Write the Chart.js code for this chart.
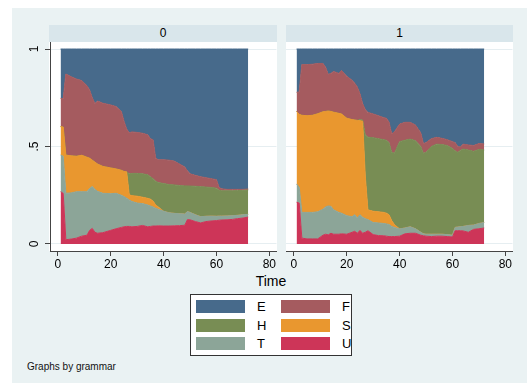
<!DOCTYPE html>
<html>
<head>
<meta charset="utf-8">
<script src="https://cdn.jsdelivr.net/npm/chart.js@4"></script>
<style>
  body { margin: 0; background: #fff; font-family: "Liberation Sans", Arial, sans-serif; }
  .abs { position: absolute; }
  .strip { position: absolute; top: 25px; height: 17px; background: #d9e6eb; font-size: 12px; line-height: 17px; text-align: center; color: #000; }
  .plotbg { position: absolute; top: 42px; height: 209px; background: #fff; }
  .sw { position: absolute; width: 49px; height: 13px; }
  .lab { position: absolute; font-size: 13px; line-height: 13px; color: #000; }
</style>
</head>
<body>
<div class="abs" style="left:12px;top:8px;width:515px;height:375px;background:#eaf2f3"></div>
<div class="strip" style="left:49px;width:228px">0</div>
<div class="strip" style="left:286px;width:227px">1</div>
<div class="plotbg" style="left:49px;width:228px"></div>
<div class="plotbg" style="left:286px;width:227px"></div>
<canvas id="panel0" class="abs" style="left:20px;top:42px" width="257" height="231"></canvas>
<canvas id="panel1" class="abs" style="left:286px;top:42px" width="227" height="231"></canvas>
<div class="abs" style="left:231px;top:273px;width:80px;text-align:center;font-size:14px">Time</div>
<div id="legend" class="abs" style="left:190px;top:294px;width:160px;height:60px;background:#fff;border:1px solid #333"></div>
<div class="abs" style="left:27px;top:361px;font-size:10px;color:#111">Graphs by grammar</div>

<script>
// Categories in legend order (top of stack first)
const categories = ['E', 'F', 'H', 'S', 'T', 'U'];
const colors = {
    E: '#476a8b', F: '#a55b5f', H: '#788d54',
    S: '#e9972f', T: '#8ca598', U: '#cd3558'
};

const xTicks = [0, 20, 40, 60, 80];
const yTicks = [0, 0.5, 1];
const yTickLabels = ['0', '.5', '1'];

// grammar = 0
const time0 = [1, 2, 3, 5, 7, 9, 11, 12, 13, 14, 15, 17, 20, 22, 24, 25, 26, 27, 28, 30, 32, 34, 35, 36, 37, 38, 40, 42, 44, 46, 48, 49, 50, 52, 54, 56, 58, 60, 61, 62, 64, 66, 68, 70, 72];
const U0 = [0.268, 0.26, 0.022, 0.025, 0.03, 0.04, 0.045, 0.07, 0.08, 0.06, 0.055, 0.058, 0.07, 0.078, 0.085, 0.088, 0.09, 0.09, 0.088, 0.09, 0.095, 0.088, 0.09, 0.092, 0.092, 0.093, 0.092, 0.092, 0.093, 0.094, 0.096, 0.125, 0.124, 0.115, 0.108, 0.115, 0.118, 0.12, 0.122, 0.123, 0.124, 0.126, 0.13, 0.133, 0.138];
const T0 = [0.188, 0.19, 0.238, 0.237, 0.238, 0.228, 0.223, 0.215, 0.215, 0.22, 0.215, 0.202, 0.188, 0.182, 0.165, 0.155, 0.145, 0.136, 0.13, 0.12, 0.112, 0.112, 0.105, 0.098, 0.091, 0.085, 0.076, 0.068, 0.064, 0.061, 0.058, 0.041, 0.038, 0.035, 0.032, 0.027, 0.025, 0.022, 0.021, 0.02, 0.02, 0.019, 0.017, 0.017, 0.014];
const S0 = [0.146, 0.15, 0.196, 0.19, 0.182, 0.187, 0.177, 0.155, 0.135, 0.14, 0.14, 0.138, 0.132, 0.125, 0.128, 0.129, 0.135, 0.026, 0.03, 0.035, 0.033, 0.034, 0.035, 0.03, 0.017, 0.012, 0, 0, 0, 0, 0, 0, 0, 0, 0, 0, 0, 0, 0, 0, 0, 0, 0, 0, 0];
const H0 = [0, 0, 0, 0, 0, 0, 0, 0, 0, 0, 0, 0, 0, 0, 0, 0, 0, 0.108, 0.114, 0.117, 0.12, 0.121, 0.115, 0.115, 0.122, 0.125, 0.142, 0.145, 0.146, 0.145, 0.144, 0.132, 0.135, 0.146, 0.154, 0.15, 0.147, 0.144, 0.132, 0.13, 0.129, 0.128, 0.127, 0.125, 0.125];
const F0 = [0.145, 0.145, 0.416, 0.406, 0.396, 0.383, 0.367, 0.35, 0.32, 0.30, 0.323, 0.324, 0.323, 0.32, 0.302, 0.258, 0.22, 0.21, 0.213, 0.21, 0.208, 0.205, 0.195, 0.2, 0.118, 0.117, 0.122, 0.125, 0.122, 0.11, 0.097, 0.077, 0.063, 0.056, 0.051, 0.048, 0.045, 0.044, 0.015, 0.01, 0.007, 0.007, 0.006, 0.005, 0.005];
const E0 = [0.253, 0.255, 0.128, 0.142, 0.154, 0.162, 0.188, 0.21, 0.25, 0.28, 0.267, 0.278, 0.287, 0.295, 0.32, 0.37, 0.41, 0.43, 0.425, 0.428, 0.432, 0.44, 0.46, 0.465, 0.56, 0.568, 0.568, 0.57, 0.575, 0.59, 0.605, 0.625, 0.64, 0.648, 0.655, 0.66, 0.665, 0.67, 0.71, 0.717, 0.72, 0.72, 0.72, 0.72, 0.718];

// grammar = 1
const time1 = [1, 2, 3, 5, 7, 9, 11, 12, 13, 14, 15, 17, 18, 20, 22, 23, 24, 25, 26, 27, 28, 30, 32, 34, 35, 36, 37, 38, 40, 42, 44, 46, 48, 49, 50, 52, 54, 56, 58, 60, 61, 62, 63, 64, 66, 68, 70, 72];
const U1 = [0.214, 0.21, 0.03, 0.026, 0.026, 0.026, 0.045, 0.05, 0.047, 0.055, 0.05, 0.05, 0.052, 0.05, 0.06, 0.065, 0.055, 0.07, 0.055, 0.06, 0.068, 0.048, 0.043, 0.042, 0.04, 0.038, 0.038, 0.038, 0.04, 0.052, 0.055, 0.055, 0.045, 0.042, 0.04, 0.038, 0.04, 0.04, 0.038, 0.036, 0.068, 0.068, 0.068, 0.067, 0.06, 0.075, 0.078, 0.082];
const T1 = [0.094, 0.08, 0.132, 0.136, 0.136, 0.139, 0.133, 0.14, 0.148, 0.138, 0.125, 0.112, 0.106, 0.095, 0.08, 0.085, 0.078, 0.08, 0.082, 0.07, 0.057, 0.062, 0.065, 0.063, 0.063, 0.062, 0.052, 0.047, 0.037, 0.03, 0.033, 0.023, 0.015, 0.01, 0.01, 0.012, 0.01, 0.01, 0.01, 0.009, 0.017, 0.019, 0.02, 0.023, 0.035, 0.022, 0.027, 0.028];
const S1 = [0.372, 0.375, 0.498, 0.496, 0.498, 0.503, 0.5, 0.49, 0.487, 0.487, 0.501, 0.508, 0.509, 0.5, 0.498, 0.486, 0.501, 0.482, 0.493, 0.22, 0.05, 0.058, 0.057, 0.057, 0.055, 0.05, 0.03, 0.015, 0, 0, 0, 0, 0, 0, 0, 0, 0, 0, 0, 0, 0, 0, 0, 0, 0, 0, 0, 0];
const H1 = [0, 0, 0, 0, 0, 0, 0, 0, 0, 0, 0, 0, 0, 0, 0, 0, 0, 0.006, 0.006, 0.21, 0.373, 0.377, 0.375, 0.373, 0.374, 0.37, 0.35, 0.365, 0.448, 0.45, 0.45, 0.452, 0.44, 0.413, 0.42, 0.45, 0.462, 0.46, 0.457, 0.445, 0.393, 0.383, 0.392, 0.397, 0.387, 0.378, 0.38, 0.372];
const F1 = [0.098, 0.115, 0.26, 0.262, 0.262, 0.258, 0.248, 0.226, 0.188, 0.195, 0.209, 0.205, 0.223, 0.215, 0.202, 0.189, 0.171, 0.132, 0.084, 0.13, 0.127, 0.122, 0.118, 0.113, 0.113, 0.105, 0.095, 0.11, 0.09, 0.092, 0.086, 0.08, 0.07, 0.05, 0.05, 0.04, 0.035, 0.032, 0.03, 0.035, 0.042, 0.03, 0.017, 0.025, 0.026, 0.03, 0.03, 0.031];
const E1 = [0.222, 0.22, 0.08, 0.08, 0.078, 0.074, 0.074, 0.094, 0.13, 0.125, 0.115, 0.125, 0.11, 0.14, 0.16, 0.175, 0.195, 0.23, 0.28, 0.31, 0.325, 0.333, 0.342, 0.352, 0.355, 0.375, 0.435, 0.425, 0.385, 0.376, 0.376, 0.39, 0.43, 0.485, 0.48, 0.46, 0.453, 0.458, 0.465, 0.475, 0.48, 0.5, 0.503, 0.488, 0.492, 0.495, 0.485, 0.487];

// Gradi dataset-e od dna naslage prema vrhu (U, T, S, H, F, E)
function buildDatasets(time, series) {
    const order = ['U', 'T', 'S', 'H', 'F', 'E'];
    return order.map((key, i) => ({
        label: key,
        data: time.map((t, j) => ({ x: t, y: series[key][j] })),
        backgroundColor: colors[key],
        borderColor: colors[key],
        borderWidth: 1,
        pointRadius: 0,
        tension: 0,
        fill: i === 0 ? 'origin' : '-1'
    }));
}

// Vertikalne oznake na y osi (okrenute za 90°, kao u Stati)
const yLabelPlugin = {
    id: 'yLabels',
    afterDraw(chart, args, opts) {
        if (!opts.show) return;
        const s = chart.scales.y;
        const c = chart.ctx;
        c.save();
        c.font = '12px "Liberation Sans"';
        c.fillStyle = '#000';
        c.textAlign = 'center';
        c.textBaseline = 'middle';
        yTicks.forEach((v, i) => {
            c.save();
            c.translate(15, s.getPixelForValue(v));
            c.rotate(-Math.PI / 2);
            c.fillText(yTickLabels[i], 0, 0);
            c.restore();
        });
        c.restore();
    }
};

function makePanel(canvasId, time, series, showY) {
    const ctx = document.getElementById(canvasId).getContext('2d');
    return new Chart(ctx, {
        type: 'line',
        data: { datasets: buildDatasets(time, series) },
        plugins: [yLabelPlugin],
        options: {
            responsive: false,
            animation: false,
            devicePixelRatio: 1,
            layout: { padding: 0 },
            plugins: {
                legend: { display: false },
                tooltip: { enabled: false },
                yLabels: { show: showY }
            },
            scales: {
                x: {
                    type: 'linear',
                    min: -3,
                    max: 82.7,
                    afterBuildTicks: s => { s.ticks = xTicks.map(v => ({ value: v })); },
                    afterFit: s => { s.height = 22; },
                    border: { display: true, color: '#444', width: 1 },
                    grid: { drawOnChartArea: false, drawTicks: true, tickLength: 5, tickColor: '#444' },
                    ticks: { color: '#000', padding: 1, maxRotation: 0, font: { size: 12, family: 'Liberation Sans' } }
                },
                y: {
                    stacked: true,
                    min: -0.036,
                    max: 1.036,
                    afterBuildTicks: s => { s.ticks = yTicks.map(v => ({ value: v })); },
                    afterFit: s => { s.width = showY ? 30 : 0; },
                    border: { display: showY, color: '#444', width: 1 },
                    grid: { color: '#e6eef1', lineWidth: 1, drawTicks: showY, tickLength: 5, tickColor: '#444' },
                    ticks: { display: false }
                }
            }
        }
    });
}

function buildLegend() {
    const box = document.getElementById('legend');
    const cols = [5, 90];
    categories.forEach((c, i) => {
        const col = i % 2, row = Math.floor(i / 2);
        const sw = document.createElement('div');
        sw.className = 'sw';
        sw.style.left = cols[col] + 'px';
        sw.style.top = (5 + row * 18.5) + 'px';
        sw.style.background = colors[c];
        box.appendChild(sw);
        const lab = document.createElement('div');
        lab.className = 'lab';
        lab.style.left = (cols[col] + 61) + 'px';
        lab.style.top = (5 + row * 18.5) + 'px';
        lab.textContent = c;
        box.appendChild(lab);
    });
}

makePanel('panel0', time0, { U: U0, T: T0, S: S0, H: H0, F: F0, E: E0 }, true);
makePanel('panel1', time1, { U: U1, T: T1, S: S1, H: H1, F: F1, E: E1 }, false);
buildLegend();
</script>
</body>
</html>
